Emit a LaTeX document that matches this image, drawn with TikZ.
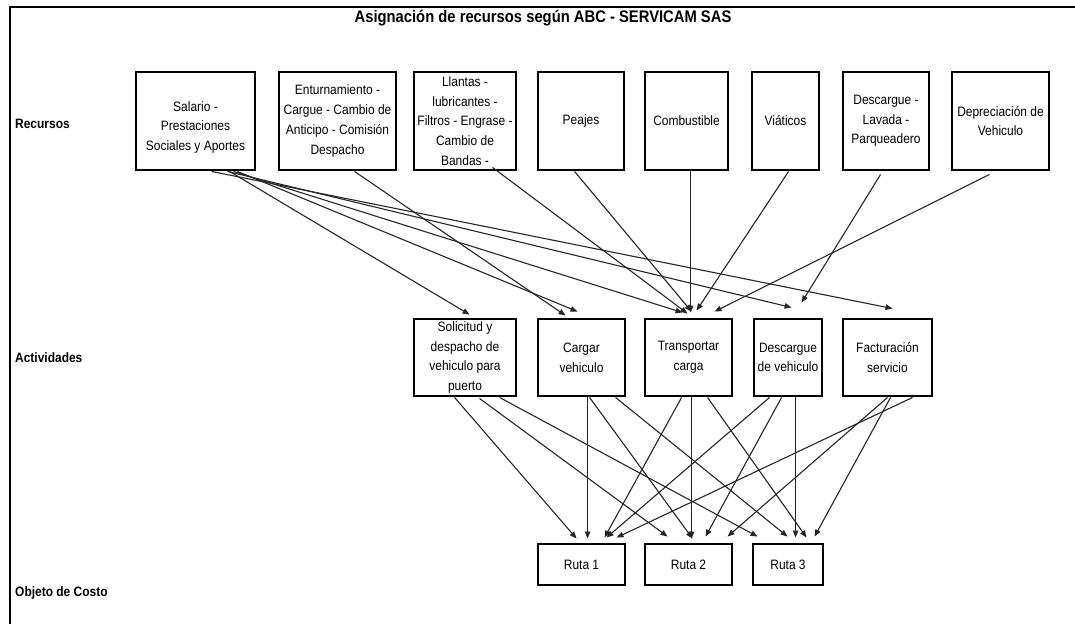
\documentclass[tikz,border=0pt]{standalone}
\usepackage{fontspec}
\setmainfont[FakeStretch=0.88]{Liberation Sans}
\usetikzlibrary{arrows.meta,calc}
\begin{document}
\begin{tikzpicture}[x=1pt,y=-1pt,
  box/.style={draw=black,line width=2.9pt,fill=white,align=center,inner sep=1pt,
    font=\fontsize{13.6}{19.7}\selectfont},
  rbox/.style={box,minimum height=98pt},
  abox/.style={box,minimum height=77pt},
  cbox/.style={box,minimum height=41pt},
  lbl/.style={anchor=west,inner sep=0pt,font=\bfseries\fontsize{13.6}{16}\selectfont},
  conn/.style={draw=black!85,line width=1.1pt,-{Triangle[length=7pt,width=5.5pt]}},
]
\useasboundingbox (0,0) rectangle (1075,624);

% frame
\draw[line width=2.5pt] (10,624) -- (10,7) -- (1075,7);

% title and row labels
\node[font=\bfseries\fontsize{16.8}{18}\selectfont] (title) at (543,18) {Asignación de recursos según ABC - SERVICAM SAS};
\node[lbl] (lrec) at (15,124) {Recursos};
\node[lbl] (lact) at (15,358) {Actividades};
\node[lbl] (lobj) at (15,593) {Objeto de Costo};

% resources
\node[rbox,minimum width=119pt,text height=62pt] (R1) at (195.5,121) {Salario -\\Prestaciones\\Sociales y Aportes};
\node[rbox,minimum width=117pt] (R2) at (337.5,121) {Enturnamiento -\\Cargue - Cambio de\\Anticipo - Comisión\\Despacho};
\node[rbox,minimum width=102pt] (R3) at (465,121) {Llantas -\\lubricantes -\\Filtros - Engrase -\\Cambio de\\Bandas -};
\node[rbox,minimum width=86pt] (R4) at (581,121) {Peajes};
\node[rbox,minimum width=83pt] (R5) at (686.5,121) {Combustible};
\node[rbox,minimum width=67pt] (R6) at (785.5,121) {Viáticos};
\node[rbox,minimum width=86pt] (R7) at (886,121) {Descargue -\\Lavada -\\Parqueadero};
\node[rbox,minimum width=97pt] (R8) at (1000.5,121) {Depreciación de\\Vehiculo};

% activities
\node[abox,minimum width=102pt] (A1) at (465,357.5) {Solicitud y\\despacho de\\vehiculo para\\puerto};
\node[abox,minimum width=87pt] (A2) at (581.5,357.5) {Cargar\\vehiculo};
\node[abox,minimum width=87pt] (A3) at (688.5,357.5) {Transportar\\carga};
\node[abox,minimum width=68pt] (A4) at (788,357.5) {Descargue\\de vehiculo};
\node[abox,minimum width=89pt] (A5) at (887.5,357.5) {Facturación\\servicio};

% cost objects
\node[cbox,minimum width=87pt] (C1) at (581.5,564.5) {Ruta 1};
\node[cbox,minimum width=87pt] (C2) at (688.5,564.5) {Ruta 2};
\node[cbox,minimum width=70pt] (C3) at (788,564.5) {Ruta 3};

% resources -> activities
\draw[conn] ($(R1.south west)+(95,0)$) -- ($(A1.north west)+(57,-3)$);
\draw[conn] ($(R1.south west)+(103,0)$) -- ($(A2.north west)+(41,-6)$);
\draw[conn] ($(R1.south west)+(99,0)$) -- ($(A3.north west)+(39,-5)$);
\draw[conn] ($(R1.south west)+(93,0)$) -- ($(A4.north west)+(39,-10)$);
\draw[conn] ($(R1.south west)+(77,0)$) -- ($(A5.north west)+(51,-9)$);
\draw[conn] ($(R2.south west)+(77,0)$) -- ($(A2.north west)+(29,-2)$);
\draw[conn] ($(R3.south west)+(80,-4)$) -- ($(A3.north west)+(44,-4)$);
\draw[conn] ($(R4.south west)+(38,0)$) -- ($(A3.north west)+(48,-6)$);
\draw[conn] ($(R5.south west)+(47,0)$) -- ($(A3.north west)+(47,-5)$);
\draw[conn] ($(R6.south west)+(38,0)$) -- ($(A3.north west)+(53,-7)$);
\draw[conn] ($(R7.south west)+(39,3)$) -- ($(A4.north west)+(49,-15)$);
\draw[conn] ($(R8.south west)+(39,3)$) -- ($(A3.north west)+(71,-6)$);

% activities -> cost objects
\draw[conn] ($(A1.south west)+(42,0)$) -- ($(C1.north west)+(40,-4)$);
\draw[conn] ($(A1.south west)+(67,1)$) -- ($(C2.north west)+(24,-6)$);
\draw[conn] ($(A1.south west)+(87,0)$) -- ($(C3.north west)+(6,-6)$);
\draw[conn] ($(A2.south west)+(51,0)$) -- ($(C1.north west)+(51,-4)$);
\draw[conn] ($(A2.south west)+(53,0)$) -- ($(C2.north west)+(49,-4)$);
\draw[conn] ($(A2.south west)+(79,0)$) -- ($(C3.north west)+(36,-6)$);
\draw[conn] ($(A3.south west)+(38,0)$) -- ($(C1.north west)+(68,-5)$);
\draw[conn] ($(A3.south west)+(48,0)$) -- ($(C2.north west)+(48,-4)$);
\draw[conn] ($(A3.south west)+(64,0)$) -- ($(C3.north west)+(55,-5)$);
\draw[conn] ($(A4.south west)+(17,0)$) -- ($(C1.north west)+(70,-5)$);
\draw[conn] ($(A4.south west)+(29,0)$) -- ($(C2.north west)+(62,-6)$);
\draw[conn] ($(A4.south west)+(43,0)$) -- ($(C3.north west)+(44,-5)$);
\draw[conn] ($(A5.south west)+(71,0)$) -- ($(C1.north west)+(80,-5)$);
\draw[conn] ($(A5.south west)+(46,0)$) -- ($(C2.north west)+(84,-6)$);
\draw[conn] ($(A5.south west)+(49,0)$) -- ($(C3.north west)+(63,-6)$);
\end{tikzpicture}
\end{document}
